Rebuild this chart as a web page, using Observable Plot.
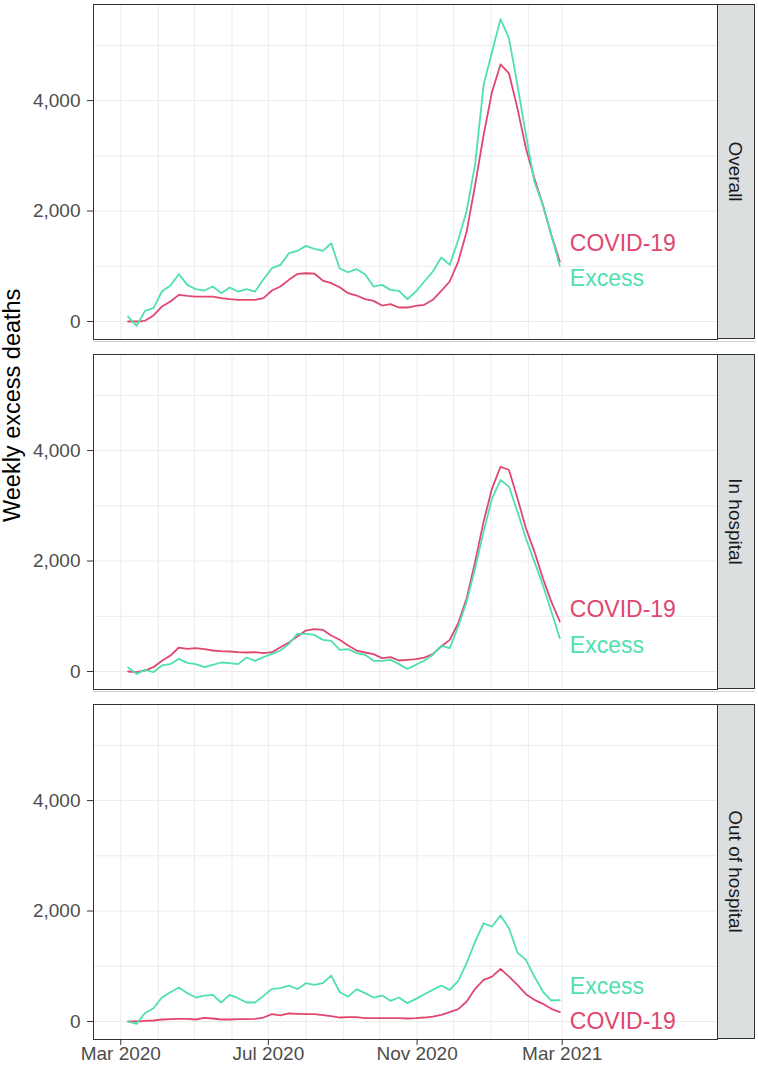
<!DOCTYPE html>
<html><head><meta charset="utf-8">
<script src="https://cdn.jsdelivr.net/npm/d3@7"></script>
<script src="https://cdn.jsdelivr.net/npm/@observablehq/plot@0.6"></script>
<style>
body{margin:0;background:#fff;}
#chart{width:758px;height:1065px;overflow:hidden;}
</style></head><body><div id="chart"></div>
<script>
// ---- data ----
const facets = ["Overall", "In hospital", "Out of hospital"];
const seriesNames = ["COVID-19", "Excess"];
const seriesColors = ["#E0476F", "#4FE0AE"];
const firstWeek = "2020-03-07"; // weekly observations start
const overallExcess = [90,-78,193,241,543,651,856,663,585,561,633,513,615,543,585,543,766,965,1025,1236,1278,1369,1315,1278,1417,960,892,947,856,633,663,573,555,404,543,724,905,1158,1025,1477,2002,2850,4281,4884,5475,5126,4281,3377,2533,2111,1568,1007];
const overallCovid = [0,0,12,109,271,362,482,464,452,452,452,422,404,392,392,392,422,561,633,754,862,874,868,742,694,621,513,470,404,374,289,314,253,253,283,302,392,555,724,1085,1628,2472,3377,4161,4655,4492,3859,3136,2593,2111,1568,1085];
const hospExcess = [72,-42,30,-12,109,133,229,157,133,78,121,163,151,133,253,193,259,320,380,500,681,681,663,573,555,392,404,332,302,193,193,211,133,48,121,199,302,470,422,814,1266,1869,2533,3136,3467,3347,2894,2412,1990,1568,1085,603];
const hospCovid = [0,-12,18,78,193,289,434,410,422,404,380,368,362,350,344,350,332,350,440,525,633,742,766,754,651,575,470,380,344,314,241,259,199,211,223,253,314,452,573,874,1327,1990,2714,3317,3708,3648,3136,2593,2171,1688,1266,905];
const outExcess = [0,-42,151,241,434,531,615,513,434,470,482,344,482,422,344,344,464,591,603,651,585,693,663,693,832,534,449,585,513,434,470,374,434,332,410,494,573,651,573,736,1055,1447,1779,1719,1918,1688,1248,1116,814,543,380,386];
const outCovid = [0,0,12,18,36,42,48,48,36,66,54,36,36,42,42,48,72,133,109,145,139,133,133,115,96,72,78,78,60,60,60,60,60,54,60,72,90,121,169,223,362,591,754,814,953,814,663,494,392,320,229,169];
const xTickLabels = ["2020-03-01", "2020-07-01", "2020-11-01", "2021-03-01"];
const yTicks = [0, 2000, 4000];
const yGrid = [0, 1000, 2000, 3000, 4000, 5000];
const yTitle = "Weekly excess deaths";

// ---- build table ----
const seriesByFacet = {
  "Overall": {"COVID-19": overallCovid, "Excess": overallExcess},
  "In hospital": {"COVID-19": hospCovid, "Excess": hospExcess},
  "Out of hospital": {"COVID-19": outCovid, "Excess": outExcess}
};
const start = new Date(firstWeek + "T00:00Z");
const weekDate = i => d3.utcDay.offset(start, 7 * i);
const rows = [];
for (const f of facets) for (const s of seriesNames) {
  seriesByFacet[f][s].forEach((v, i) => rows.push({facet: f, series: s, date: weekDate(i), value: v}));
}
// end labels: spread apart around the midpoint of the two end values (repel-like)
const labels = [];
for (const f of facets) {
  const ends = seriesNames.map(s => { const a = seriesByFacet[f][s]; return {series: s, v: a[a.length - 1], n: a.length}; });
  const mid = (ends[0].v + ends[1].v) / 2 + 40;
  const half = 318;
  ends.sort((a, b) => b.v - a.v);
  labels.push({facet: f, series: ends[0].series, date: weekDate(ends[0].n - 1), y: mid + half});
  labels.push({facet: f, series: ends[1].series, date: weekDate(ends[1].n - 1), y: mid - half});
}
const monthGrid = d3.utcMonth.range(new Date("2020-03-01T00:00Z"), new Date("2021-03-02T00:00Z"));
const xTicks = xTickLabels.map(d => new Date(d + "T00:00Z"));

const W = 758, H = 1065, mL = 93, mR = 41, mT = 3, mB = 26;
const font = "'Liberation Sans', Arial, Helvetica, sans-serif";

const plot = Plot.plot({
  width: W, height: H,
  marginTop: mT, marginBottom: mB, marginLeft: mL, marginRight: mR,
  style: {fontFamily: font, background: "#fff"},
  x: {type: "utc", domain: [new Date("2020-02-07T10:00Z"), new Date("2021-07-07T10:00Z")]},
  y: {domain: [-326, 5740]},
  fy: {domain: facets, paddingInner: 0.043, paddingOuter: 0, axis: null},
  color: {domain: seriesNames, range: seriesColors},
  marks: [
    Plot.gridY(yGrid, {stroke: "#ebebeb", strokeOpacity: 1, strokeWidth: 1}),
    Plot.gridX(monthGrid, {stroke: "#ebebeb", strokeOpacity: 1, strokeWidth: 1}),
    Plot.line(rows, {x: "date", y: "value", z: "series", stroke: "series", fy: "facet", strokeWidth: 1.8}),
    Plot.text(labels, {x: "date", y: "y", fy: "facet", text: "series", fill: "series", textAnchor: "start", dx: 10, fontSize: 23}),
    Plot.frame({stroke: "#333", strokeWidth: 1}),
    Plot.axisY(yTicks, {tickFormat: d3.format(","), tickSize: 6, tickPadding: 7, fontSize: 19, stroke: "#333", fill: "#4d4d4d", label: null}),
    Plot.axisX(xTicks, {tickFormat: d3.utcFormat("%b %Y"), tickSize: 6, tickPadding: 1, fontSize: 19, stroke: "#333", fill: "#4d4d4d", label: null}),
    Plot.text([yTitle], {fy: [facets[1]], frameAnchor: "left", rotate: -90, dx: -81, fontSize: 23.5, fill: "#000"})
  ]
});

// facet strips on the right
const fy = plot.scale("fy");
const svg = d3.select(plot);
const g = svg.append("g");
facets.forEach((f, k) => {
  const y0 = fy.apply(f), h = fy.bandwidth;
  g.append("rect").attr("x", W - mR + 0.5).attr("y", y0 + 0.5).attr("width", 37).attr("height", h - 1)
    .attr("fill", "#dcdfdf").attr("stroke", "#333").attr("stroke-width", 1);
  g.append("text").attr("transform", `translate(${W - mR + 19},${y0 + h / 2}) rotate(90)`)
    .attr("text-anchor", "middle").attr("dy", "0.35em").attr("font-size", 19).attr("fill", "#1a1a1a")
    .attr("font-family", font).text(f);
  if (k < facets.length - 1) {
    g.append("line").attr("x1", mL).attr("x2", W - 3).attr("y1", y0 + h + 2.5).attr("y2", y0 + h + 2.5)
      .attr("stroke", "#d0d0d0").attr("stroke-width", 1);
  }
});
document.getElementById("chart").appendChild(plot);
</script></body></html>
